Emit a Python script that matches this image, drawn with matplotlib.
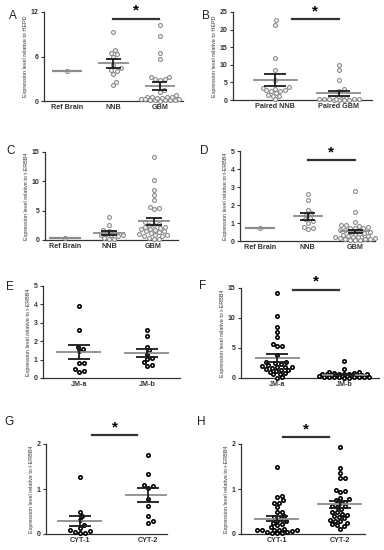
import numpy as np
import matplotlib.pyplot as plt

plt.rcParams['font.family'] = ['Liberation Sans', 'DejaVu Sans']

# ---- data ----
# A: relative to HEPD
a_ref = [4.0]
a_nnb = [9.3, 6.9, 6.5, 6.3, 6.0, 4.9, 4.4, 4.2, 4.1, 3.7, 2.6, 2.1]
a_gbm = [10.2, 8.7, 6.5, 5.7, 3.3, 3.2, 2.9, 2.8, 2.9, 1.5, 1.2, 0.8, 0.6, 0.5,
         0.5, 0.4, 0.3, 0.3, 0.2, 0.2, 0.1, 0.1, 0.1, 0.05, 0.6, 0.4, 0.3]
# B: paired samples, relative to HEPD
b_nnb = [22.6, 21.4, 11.8, 8.5, 5.8, 3.6, 3.3, 3.2, 2.9, 2.7, 2.6, 2.5, 2.0,
         1.5, 1.2, 1.0, 0.2]
b_gbm = [10.0, 8.5, 5.6, 3.1, 2.6, 0.5, 0.4, 0.3, 0.3, 0.2, 0.2, 0.1, 0.1,
         0.1, 0.05, 0.3, 0.4]
# C: relative to t-ERBB4
c_ref = [0.3]
c_nnb = [3.9, 2.6, 1.7, 1.5, 1.3, 1.1, 0.9, 0.8, 0.8, 0.7, 0.3, 0.2, 0.1]
c_gbm = [14.1, 10.3, 8.5, 7.6, 6.8, 5.7, 5.3, 5.4, 3.0, 2.6, 2.7, 2.5, 2.3,
         2.0, 1.8, 1.7, 1.5, 1.3, 1.2, 1.0, 0.9, 0.8, 0.7, 0.6, 0.4, 0.2, 0.1,
         1.9, 1.6, 2.2]
# D
d_ref = [0.75]
d_nnb = [2.6, 2.3, 1.7, 1.55, 1.45, 1.3, 1.2, 1.1, 1.0, 0.8, 0.7, 0.65]
d_gbm = [2.8, 1.6, 1.05, 0.9, 0.9, 0.85, 0.8, 0.75, 0.7, 0.7, 0.6, 0.5, 0.5,
         0.45, 0.4, 0.35, 0.3, 0.3, 0.25, 0.2, 0.2, 0.15, 0.1, 0.1, 0.05, 0.05,
         0.6, 0.55, 0.1, 0.15, 0.05, 0.2]
# E
e_jma = [3.9, 2.6, 1.7, 1.6, 1.45, 0.8, 0.8, 0.5, 0.4, 0.35]
e_jmb = [2.6, 2.3, 1.7, 1.5, 1.3, 1.1, 1.05, 0.85, 0.7, 0.65]
# F
f_jma = [14.1, 10.3, 8.5, 7.6, 6.8, 5.7, 5.4, 5.3, 3.8, 2.7, 2.6, 2.5, 2.3,
         2.1, 2.0, 1.9, 1.8, 1.8, 1.7, 1.5, 1.4, 1.3, 1.2, 1.0, 0.8, 0.7, 0.6,
         0.1, 0.05]
f_jmb = [2.8, 1.5, 1.05, 1.0, 0.85, 0.8, 0.7, 0.7, 0.65, 0.6, 0.55, 0.5, 0.45,
         0.4, 0.35, 0.3, 0.3, 0.25, 0.2, 0.2, 0.15, 0.15, 0.1, 0.1, 0.1, 0.05,
         0.05, 0.6, 0.7, 0.5]
# G
g_cyt1 = [1.27, 0.5, 0.4, 0.32, 0.2, 0.13, 0.07, 0.05, 0.02, 0.03, 0.08]
g_cyt2 = [1.75, 1.33, 1.1, 1.07, 1.03, 0.78, 0.63, 0.4, 0.28, 0.25]
# H
h_cyt1 = [1.48, 0.85, 0.82, 0.75, 0.7, 0.68, 0.6, 0.5, 0.48, 0.4, 0.38, 0.35,
          0.3, 0.28, 0.25, 0.22, 0.2, 0.15, 0.12, 0.1, 0.1, 0.08, 0.07, 0.05,
          0.05, 0.03, 0.03, 0.02, 0.08, 0.1]
h_cyt2 = [1.93, 1.47, 1.35, 1.25, 1.25, 0.98, 0.95, 0.93, 0.8, 0.78, 0.75,
          0.72, 0.7, 0.62, 0.6, 0.55, 0.5, 0.45, 0.42, 0.4, 0.38, 0.35, 0.32,
          0.3, 0.28, 0.25, 0.22, 0.2, 0.18, 0.12, 0.62, 0.48]

cats3 = ['Ref Brain', 'NNB', 'GBM']
lab_hepd = 'Expression level relative to HEPD'
lab_erbb = 'Expression level relative to t-ERBB4'

# letter, letter pos (px), box (left, right, top, bottom px), ymax, yticks,
# cats, groups, xlim, significance bar (x0, x1, y), mean line px, max spread px,
# style, ylabel
panels = [
    ('A', (13, 16), (44, 183, 12, 101), 12, [0, 6, 12], cats3,
     [a_ref, a_nnb, a_gbm], (-0.5, 2.5), (1.0, 1.98, 11.1), 30, 19,
     'grey', lab_hepd),
    ('B', (206, 16), (233, 372, 12, 100), 25, [0, 5, 10, 15, 20, 25],
     ['Paired NNB', 'Paired GBM'], [b_nnb, b_gbm],
     (-0.66, 1.52), (0.26, 1.0, 23.0), 45, 22, 'grey', lab_hepd),
    ('C', (11, 151), (45, 178, 152, 240), 15, [0, 5, 10, 15], cats3,
     [c_ref, c_nnb, c_gbm], (-0.45, 2.55), None, 32, 19, 'grey', lab_erbb),
    ('D', (204, 151), (240, 375, 151, 241), 5, [0, 1, 2, 3, 4, 5], cats3,
     [d_ref, d_nnb, d_gbm], (-0.42, 2.42), (1.0, 2.0, 4.5), 30, 20,
     'grey', lab_erbb),
    ('E', (10, 287), (43, 180, 286, 378), 5, [0, 1, 2, 3, 4, 5],
     ['JM-a', 'JM-b'], [e_jma, e_jmb], (-0.53, 1.49), None, 45, 22,
     'black', lab_erbb),
    ('F', (203, 286), (241, 379, 288, 378), 15, [0, 5, 10, 15],
     ['JM-a', 'JM-b'], [f_jma, f_jmb], (-0.54, 1.52), (0.24, 0.92, 14.75),
     45, 26, 'black', lab_erbb),
    ('G', (9, 422), (46, 167, 444, 534), 2, [0, 1, 2], ['CYT-1', 'CYT-2'],
     [g_cyt1, g_cyt2], (-0.5, 1.28), (0.18, 0.84, 2.2), 45, 22,
     'black', lab_erbb),
    ('H', (201, 422), (241, 365, 444, 534), 2, [0, 1, 2], ['CYT-1', 'CYT-2'],
     [h_cyt1, h_cyt2], (-0.57, 1.4), (0.1, 0.83, 2.15), 45, 22,
     'black', lab_erbb),
]

W, H = 384, 550
D_PX = 5.0  # marker diameter in px


def swarm(vals, ppu_x, ppu_y, d, max_px):
    """x offsets (data units) for a column scatter, kept within +-max_px."""
    vals = np.asarray(vals, float)
    placed = []
    xs = np.zeros(len(vals))
    step = 0.25 * d
    n = int(max_px / step)
    cands = [0.0]
    for k in range(1, n + 1):
        cands += [k * step, -k * step]
    for i in np.argsort(vals):
        y = vals[i] * ppu_y
        best, best_d = 0.0, -1
        for off in cands:
            md = min([np.hypot(off - px, y - py) for px, py in placed] or [99])
            if md >= 0.85 * d:
                best = off
                break
            if md > best_d:
                best, best_d = off, md
        placed.append((best, y))
        xs[i] = best / ppu_x
    return xs


fig = plt.figure(figsize=(W / 100, H / 100), dpi=100)

for (letter, lpos, box, ymax, yticks, cats, groups, xlim, sig, mean_px,
     spread, style, ylab) in panels:
    l, r, t, b = box
    ax = fig.add_axes([l / W, 1 - b / H, (r - l) / W, (b - t) / H])
    ax.set_xlim(*xlim)
    ax.set_ylim(0, ymax)
    ppu_x = (r - l) / (xlim[1] - xlim[0])
    ppu_y = (b - t) / ymax
    half = mean_px / 2 / ppu_x
    if style == 'grey':
        ec, lw = '#8a8a8a', 0.8
    else:
        ec, lw = 'black', 1.2
    for i, vals in enumerate(groups):
        xs = i + swarm(vals, ppu_x, ppu_y, D_PX, spread)
        ax.scatter(xs, vals, s=(D_PX * 0.72 - lw) ** 2, facecolor='white',
                   edgecolor=ec, linewidth=lw, zorder=3, clip_on=False)
        m = np.mean(vals)
        ax.hlines(m, i - half, i + half, color='#8c8c8c',
                  lw=1.3 if len(vals) > 1 else 1.6, zorder=4)
        if len(vals) > 1:
            sem = np.std(vals, ddof=1) / np.sqrt(len(vals))
            ax.vlines(i, m - sem, m + sem, color='#1a1a1a', lw=1.3, zorder=4)
            ax.hlines([m - sem, m + sem], i - half / 2, i + half / 2,
                      color='#1a1a1a', lw=1.3, zorder=4)
    if sig is not None:
        x0, x1, ys = sig
        ax.plot([x0, x1], [ys, ys], color='#333333', lw=1.6, clip_on=False)
        ax.text((x0 + x1) / 2, ys + 1.0 / ppu_y, '*', ha='center', va='bottom',
                fontsize=11, fontweight='bold', clip_on=False)
    ax.set_xticks(range(len(cats)))
    ax.set_xticklabels(cats, fontsize=5.2, fontweight='bold', color='#333333')
    ax.set_yticks(yticks)
    ax.set_yticklabels([str(v) for v in yticks], fontsize=5, fontweight='bold',
                       color='#333333')
    ax.tick_params(axis='x', length=0, pad=2)
    ax.tick_params(axis='y', length=2.5, width=0.8, pad=1.5, color='#333333')
    for s in ('top', 'right'):
        ax.spines[s].set_visible(False)
    for s in ('left', 'bottom'):
        ax.spines[s].set_linewidth(0.9)
        ax.spines[s].set_color('#333333')
    ax.spines['left'].set_bounds(0, ymax)
    ax.set_ylabel(ylab, fontsize=3.9, color='#333333', labelpad=2)
    fig.text(lpos[0] / W, 1 - lpos[1] / H, letter, fontsize=8.5, ha='center',
             va='center', color='#222222')

fig.savefig('out.png', dpi=100)
